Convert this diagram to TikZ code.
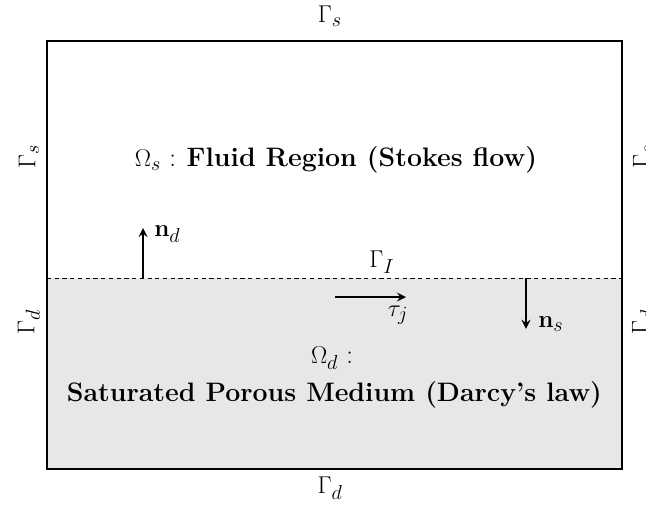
\documentclass[tikz,border=0pt]{standalone}
\usepackage{amsmath,amsfonts,amssymb}
\usepackage{tikz}
\definecolor{porous}{RGB}{230,231,233}
\newcommand{\bn}{\mathbf{n}}

\begin{document}
\begin{tikzpicture}[font=\fontsize{19}{23}\selectfont, vec/.style={-stealth,line width=1.8pt}, bnd/.style={inner sep=0pt}]
            \useasboundingbox (0,0) rectangle (16.15,12.6);
            \fill[color=porous] (1.175,0.875) rectangle (15.55,5.65);
            \draw[line width=1.3pt] (1.175,0.875) rectangle (15.55,11.575);
            \draw[dashed,line width=0.6pt,dash pattern=on 3pt off 2.5pt] (1.175,5.65) -- (15.55,5.65);
            % boundary labels
            \node[bnd] (gstop) at (8.25,12.2) {$\Gamma_s$};
            \node[bnd] (gdbot) at (8.25,0.4) {$\Gamma_d$};
            \node[bnd,rotate=90] (gsleft) at (0.72,8.7) {$\Gamma_s$};
            \node[bnd,rotate=90] (gdleft) at (0.72,4.55) {$\Gamma_d$};
            \node[bnd,rotate=90] (gsright) at (16.08,8.7) {$\Gamma_s$};
            \node[bnd,rotate=90] (gdright) at (16.08,4.55) {$\Gamma_d$};
            \node[bnd] (gint) at (9.55,6.05) {$\Gamma_I$};
            % regions
            \node (fluid) at (8.4,8.6) {$\Omega_s$ : \textbf{Fluid Region (Stokes flow)}};
            \node (omd) at (8.3,3.65) {$\Omega_d$ :};
            \node (porous) at (8.36,2.72) {\textbf{Saturated Porous Medium (Darcy's law)}};
            % vectors
            \coordinate (nd0) at (3.575,5.65); \coordinate (nd1) at (3.575,6.9);
            \draw[vec] (nd0) -- (nd1);
            \node[bnd,anchor=west] (ndlab) at (3.85,6.75) {$\bn_d$};
            \coordinate (tj0) at (8.375,5.175); \coordinate (tj1) at (10.15,5.175);
            \draw[vec] (tj0) -- (tj1);
            \node[bnd] (tjlab) at (9.95,4.72) {$\tau_j$};
            \coordinate (ns0) at (13.15,5.65); \coordinate (ns1) at (13.15,4.38);
            \draw[vec] (ns0) -- (ns1);
            \node[bnd,anchor=west] (nslab) at (13.45,4.5) {$\bn_s$};
        \end{tikzpicture}
\end{document}
